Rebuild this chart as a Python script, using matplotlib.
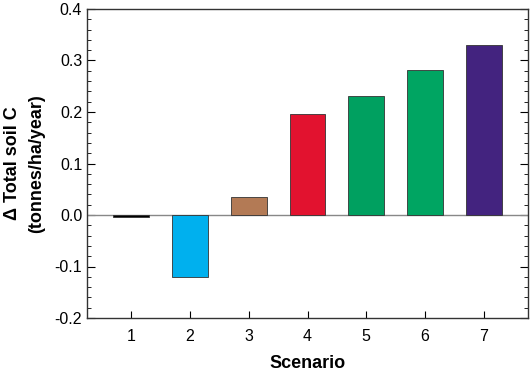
import matplotlib
matplotlib.use("Agg")
import matplotlib.pyplot as plt
from matplotlib.ticker import MultipleLocator

# Data
scenarios = [1, 2, 3, 4, 5, 6, 7]
delta_soil_c = [-0.003, -0.12, 0.035, 0.196, 0.231, 0.282, 0.330]
bar_colors = ["#000000", "#00B0EE", "#B37A55", "#E2122F", "#00A060", "#00A562", "#43237F"]

plt.rcParams["font.family"] = ["Liberation Sans", "DejaVu Sans"]

fig = plt.figure(figsize=(5.32, 3.71), dpi=100)
ax = fig.add_axes([87 / 532, 1 - 318 / 371, 441 / 532, 309 / 371])

ax.bar(scenarios, delta_soil_c, width=0.61, color=bar_colors,
       edgecolor="#333333", linewidth=0.6, zorder=3)
ax.axhline(0, color="#888888", linewidth=1.0, zorder=2)

ax.set_xlim(0.25, 7.75)
ax.set_ylim(-0.2, 0.4)
ax.set_xticks(scenarios)
ax.yaxis.set_major_locator(MultipleLocator(0.1))
ax.yaxis.set_minor_locator(MultipleLocator(0.02))
ax.yaxis.set_major_formatter(plt.FuncFormatter(lambda v, p: f"{v:.1f}"))

ax.tick_params(axis="both", which="both", direction="in", labelsize=11.5)
ax.tick_params(axis="y", which="both", right=True)
ax.tick_params(axis="y", which="major", length=6)
ax.tick_params(axis="y", which="minor", length=3)
ax.tick_params(axis="x", which="major", length=5, pad=8)
for s in ax.spines.values():
    s.set_linewidth(1.0)
    s.set_color("#333333")

ax.set_xlabel("Scenario", fontsize=13, fontweight="bold", labelpad=8)
ax.set_ylabel("\u0394 Total soil C\n(tonnes/ha/year)", fontsize=13,
              fontweight="bold", labelpad=7, linespacing=1.5)

fig.savefig("out.png", dpi=100)
